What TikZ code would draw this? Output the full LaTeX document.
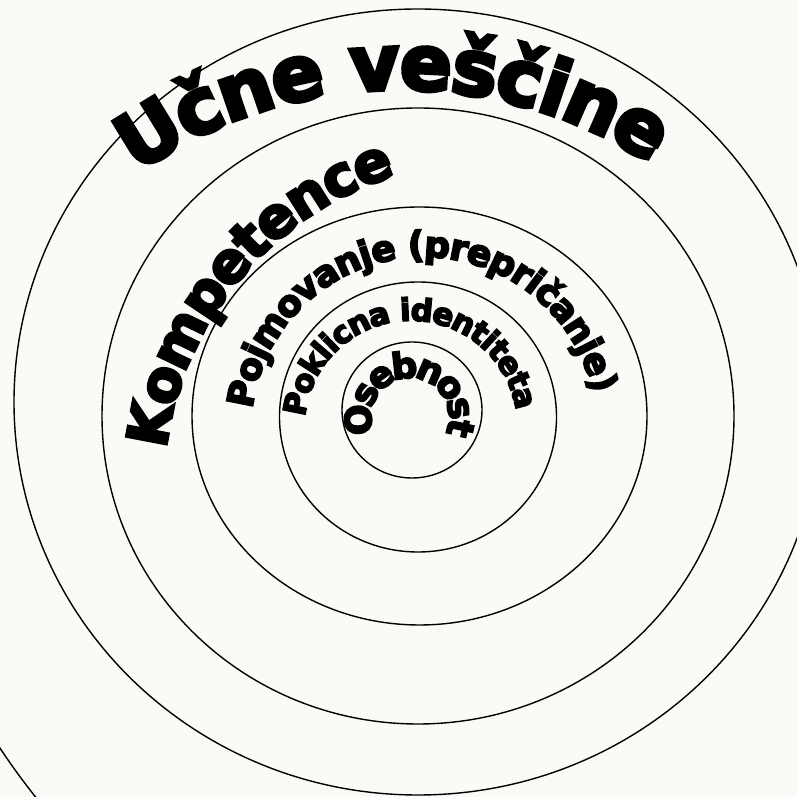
\documentclass[tikz,border=0pt]{standalone}
\usepackage{fontspec}
\newfontfamily\heavyfont{DejaVu Sans Bold}[FakeBold=5]
\usetikzlibrary{decorations.text}
\definecolor{paper}{RGB}{250,251,247}

\begin{document}
\begin{tikzpicture}[x=1pt,y=1pt,line width=1.4pt]
  % --- Helper: \ringlabel{centre}{radius}{from}{to}{size}{text} ---
  % Sets {text} in the heavy face along a clockwise arc of {radius} round
  % {centre}, centred between angle {from} and angle {to}, letters centred
  % on the arc (the arc runs 10 degrees past both ends, so nothing drops).
  \newcommand{\ringlabel}[6]{%
    \path[decorate, decoration={text along path, text align=center,
        raise=-0.28*#5pt,
        text={|\heavyfont\fontsize{#5}{#5}\selectfont|#6}}]
      ([shift={(#3+10:#2)}]#1) arc[start angle=#3+10, end angle=#4-10, radius=#2];}
  \useasboundingbox[fill=paper] (0,0) rectangle (797,797);
  \clip (0,0) rectangle (797,797);
  % Rings, from the inside out.
  \draw (412,387) ellipse [x radius=70, y radius=68];
  \draw (418,380) ellipse [x radius=138.5, y radius=135];
  \draw (419.5,381) ellipse [x radius=227.5, y radius=209];
  \draw (418,381) ellipse [x radius=316, y radius=308];
  \draw (418,395) ellipse [x radius=404, y radius=393];
  \draw (600,447) circle [radius=720];
  % Centres of the arched labels.
  \coordinate (vescineC) at (401,252);
  \coordinate (kompetC) at (493,307);
  \coordinate (pojmC) at (424,367);
  \coordinate (poklicC) at (411,370);
  \coordinate (osebC) at (410,380);
  \ringlabel{vescineC}{477}{124.7}{57.4}{77}{Učne veščine}
  \ringlabel{kompetC}{345}{171.8}{108.2}{56}{Kompetence}
  \ringlabel{pojmC}{183}{170.4}{14.6}{36}{Pojmovanje (prepričanje)}
  \ringlabel{poklicC}{115}{173.6}{9.9}{31}{Poklicna identiteta}
  \ringlabel{osebC}{49}{198.9}{-20.6}{36}{Osebnost}
\end{tikzpicture}
\end{document}
